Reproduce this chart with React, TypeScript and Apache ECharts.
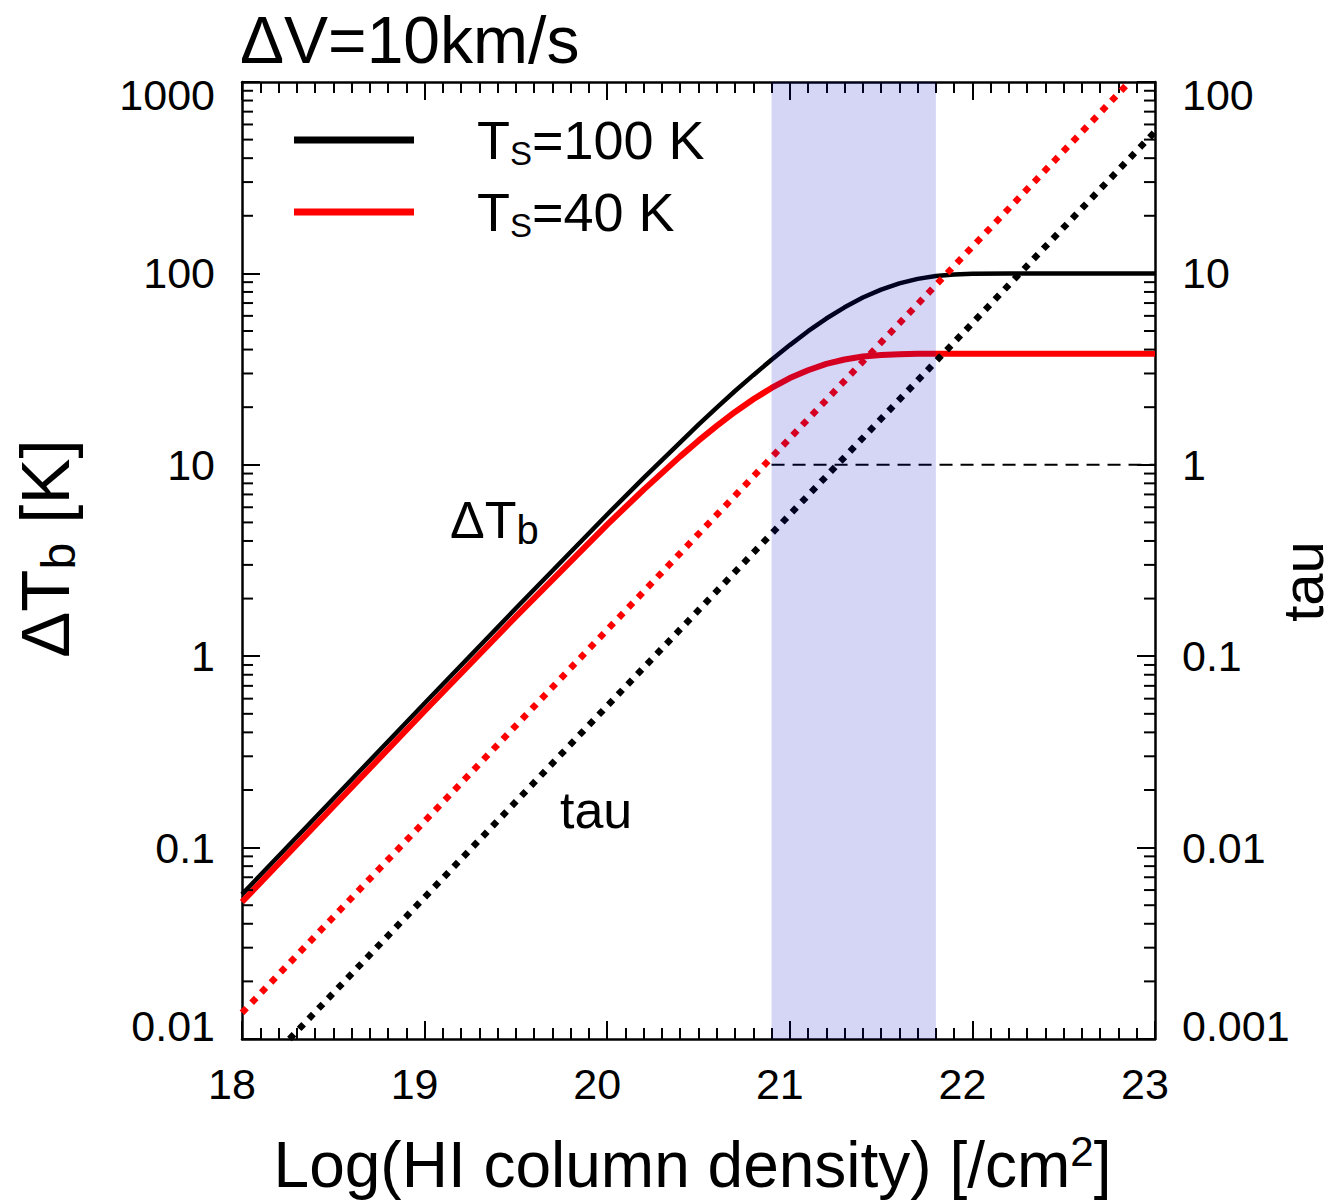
import React, { useEffect, useRef } from "react";
import * as echarts from "echarts";

// ---- data ----
const xTickLabels = ["18", "19", "20", "21", "22", "23"];
const leftTickLabels = ["0.01", "0.1", "1", "10", "100", "1000"];
const rightTickLabels = ["0.001", "0.01", "0.1", "1", "10", "100"];

// log10 of HI column density sampled along the curves
const logN = [18.0, 18.5, 19.0, 19.5, 20.0, 20.2, 20.4, 20.5, 20.6, 20.7, 20.8, 20.9, 21.0, 21.1, 21.2, 21.3, 21.4, 21.5, 21.6, 21.7, 21.8, 21.9, 22.0, 22.2, 22.5, 23.0];
// Delta T_b [K] for Ts = 100 K (black)
const dTb100 = [0.057, 0.18, 0.568, 1.78, 5.5, 8.55, 13.1, 16.2, 19.9, 24.3, 29.4, 35.4, 42.2, 49.9, 58.1, 66.5, 74.8, 82.3, 88.7, 93.6, 96.9, 98.7, 99.6, 100, 100, 100];
// Delta T_b [K] for Ts = 40 K (red)
const dTb40 = [0.052, 0.164, 0.517, 1.61, 4.87, 7.42, 11.07, 13.37, 15.98, 18.89, 22.0, 25.2, 28.4, 31.2, 33.7, 35.5, 36.8, 37.5, 37.8, 38.0, 38.0, 38.0, 38.0, 38.0, 38.0, 38.0];

// tau (dotted, right axis): straight lines on log-log
const tau40LogN = [18.0, 22.86];
const tau40 = [0.00137, 100];
const tau100LogN = [18.26, 23.0];
const tau100 = [0.001, 55];
// tau = 1 dashed guide
const tauOneLogN = [20.9, 23.0];
const tauOne = [1, 1];
// shaded band (log N range)
const bandLogN = [20.9, 21.8];

const legendNames = ["Ts=100 K", "Ts=40 K"];
const legendTemps = ["100", "40"];

// log minor tick layout
const minorMultipliers = [2, 3, 4, 5, 6, 7, 8, 9];
const leftDecades = [0.01, 0.1, 1, 10, 100];

const X_MIN = 18;
const X_MAX = 23;
const YL_MIN = 0.01;
const YL_MAX = 1000;
const YR_MIN = 0.001;
const YR_MAX = 100;

const FONT = "Liberation Sans, Arial, Helvetica, sans-serif";
const BLACK = "#000000";
const RED = "#ff0000";
const MAJOR_LEN = 18;
const MINOR_LEN = 11;

const zip = (a: number[], b: number[]) => a.map((v, i) => [v, b[i]]);

const minorTickValues: number[] = [];
leftDecades.forEach((d) => minorMultipliers.forEach((m) => minorTickValues.push(+(d * m).toPrecision(3))));

function buildOption(): any {
  const axisLine = { show: true, onZero: false, lineStyle: { color: BLACK, width: 2.5 } };
  const axisTick = { show: true, inside: true, length: MAJOR_LEN, lineStyle: { color: BLACK, width: 2 } };
  const minorTick = { show: true, splitNumber: 10, length: MINOR_LEN, lineStyle: { color: BLACK, width: 2 } };
  const tickLabel = { fontSize: 43, color: BLACK, fontFamily: FONT };

  return {
    animation: false,
    backgroundColor: "#ffffff",
    textStyle: { fontFamily: FONT },
    grid: { left: 242, top: 82, width: 913, height: 957, containLabel: false, outerBoundsMode: "none" },
    legend: {
      data: legendNames,
      orient: "vertical",
      left: 289,
      top: 108,
      icon: "rect",
      itemWidth: 120,
      itemHeight: 7,
      itemGap: 15,
      selectedMode: false,
      formatter: (name: string) => {
        const i = legendNames.indexOf(name);
        return `{m|T}{s|S}{m|=${legendTemps[i]} K}`;
      },
      textStyle: {
        padding: [0, 0, 0, 58],
        rich: {
          m: { fontSize: 54, lineHeight: 60, color: BLACK, fontFamily: FONT, verticalAlign: "middle" },
          s: { fontSize: 33, lineHeight: 25, color: BLACK, fontFamily: FONT, verticalAlign: "bottom" },
        },
      },
    },
    xAxis: [
      {
        type: "value",
        position: "bottom",
        min: X_MIN,
        max: X_MAX,
        interval: 1,
        axisLine,
        axisTick,
        minorTick,
        splitLine: { show: false },
        axisLabel: {
          ...tickLabel,
          margin: 23,
          padding: [0, 20, 0, 0],
          formatter: (v: number) => xTickLabels[Math.round(v - X_MIN)] ?? "",
        },
        name: "{m|Log(HI column density) [/cm}{p|2}{m|]}",
        nameLocation: "middle",
        nameGap: 91,
        nameMoveOverlap: false,
        nameTextStyle: {
          padding: [0, 12, 0, 0],
          rich: {
            m: { fontSize: 64, lineHeight: 70, color: BLACK, fontFamily: FONT, verticalAlign: "middle" },
            p: { fontSize: 42, lineHeight: 55, color: BLACK, fontFamily: FONT, verticalAlign: "top" },
          },
        },
      },
      {
        type: "value",
        position: "top",
        min: X_MIN,
        max: X_MAX,
        interval: 1,
        axisLine,
        axisTick,
        minorTick,
        splitLine: { show: false },
        axisLabel: { show: false },
      },
    ],
    yAxis: [
      {
        type: "log",
        logBase: 10,
        position: "left",
        min: YL_MIN,
        max: YL_MAX,
        splitNumber: 5,
        axisLine,
        axisTick,
        splitLine: { show: false },
        axisLabel: {
          ...tickLabel,
          lineHeight: 26,
          margin: 27,
          verticalAlignMinLabel: "bottom",
          verticalAlignMaxLabel: "top",
          formatter: (v: number) => leftTickLabels[Math.round(Math.log10(v)) + 2] ?? "",
        },
        name: "{m|ΔT}{b|b}{m| [K]}",
        nameLocation: "middle",
        nameRotate: 90,
        nameGap: 160,
        nameMoveOverlap: false,
        nameTextStyle: {
          padding: [0, 0, 0, 24],
          rich: {
            m: { fontSize: 69, lineHeight: 74, color: BLACK, fontFamily: FONT, verticalAlign: "middle" },
            b: { fontSize: 48, lineHeight: 36, color: BLACK, fontFamily: FONT, verticalAlign: "bottom" },
          },
        },
      },
      {
        type: "log",
        logBase: 10,
        position: "right",
        min: YR_MIN,
        max: YR_MAX,
        splitNumber: 5,
        axisLine,
        axisTick,
        splitLine: { show: false },
        axisLabel: {
          ...tickLabel,
          lineHeight: 26,
          margin: 27,
          verticalAlignMinLabel: "bottom",
          verticalAlignMaxLabel: "top",
          formatter: (v: number) => rightTickLabels[Math.round(Math.log10(v)) + 3] ?? "",
        },
        name: "tau",
        nameLocation: "middle",
        nameRotate: 90,
        nameGap: 122,
        nameMoveOverlap: false,
        nameTextStyle: { fontSize: 58, lineHeight: 50, color: BLACK, fontFamily: FONT, padding: [0, 42, 0, 0] },
      },
    ],
    graphic: [
      {
        type: "text",
        x: 240,
        y: 40,
        style: { text: "ΔV=10km/s", fontSize: 66, fontFamily: FONT, fill: BLACK, align: "left", verticalAlign: "middle" },
      },
      {
        type: "text",
        x: 450,
        y: 520,
        style: {
          text: "{m|ΔT}{s|b}",
          align: "left",
          verticalAlign: "middle",
          rich: {
            m: { fontSize: 52, lineHeight: 60, fill: BLACK, fontFamily: FONT, verticalAlign: "middle" },
            s: { fontSize: 40, lineHeight: 32, fill: BLACK, fontFamily: FONT, verticalAlign: "bottom" },
          },
        },
      },
      {
        type: "text",
        x: 560,
        y: 810,
        style: { text: "tau", fontSize: 52, fontFamily: FONT, fill: BLACK, align: "left", verticalAlign: "middle" },
      },
    ],
    series: [
      {
        name: legendNames[0],
        type: "line",
        xAxisIndex: 0,
        yAxisIndex: 0,
        data: zip(logN, dTb100),
        symbol: "none",
        showSymbol: false,
        itemStyle: { color: BLACK },
        lineStyle: { color: BLACK, width: 4.5 },
        z: 2,
      },
      {
        name: legendNames[1],
        type: "line",
        xAxisIndex: 0,
        yAxisIndex: 0,
        data: zip(logN, dTb40),
        symbol: "none",
        showSymbol: false,
        itemStyle: { color: RED },
        lineStyle: { color: RED, width: 6 },
        z: 2,
      },
      {
        name: "tau Ts=40 K",
        type: "line",
        xAxisIndex: 0,
        yAxisIndex: 1,
        data: zip(tau40LogN, tau40),
        symbol: "none",
        showSymbol: false,
        itemStyle: { color: RED },
        lineStyle: { color: RED, width: 6.5, type: [6.5, 7.5], cap: "butt" },
        z: 3,
      },
      {
        name: "tau Ts=100 K",
        type: "line",
        xAxisIndex: 0,
        yAxisIndex: 1,
        data: zip(tau100LogN, tau100),
        symbol: "none",
        showSymbol: false,
        itemStyle: { color: BLACK },
        lineStyle: { color: BLACK, width: 6.5, type: [6.5, 7.5], cap: "butt" },
        z: 3,
      },
      {
        name: "tau = 1",
        type: "line",
        xAxisIndex: 0,
        yAxisIndex: 1,
        data: zip(tauOneLogN, tauOne),
        symbol: "none",
        showSymbol: false,
        itemStyle: { color: BLACK },
        lineStyle: { color: BLACK, width: 2, type: [13, 8], cap: "butt" },
        z: 3,
      },
      {
        name: "band",
        type: "custom",
        xAxisIndex: 0,
        yAxisIndex: 0,
        silent: true,
        z: 5,
        data: [[bandLogN[0], bandLogN[1]]],
        renderItem: (_p: any, api: any) => {
          const p0 = api.coord([api.value(0), YL_MAX]);
          const p1 = api.coord([api.value(1), YL_MIN]);
          return {
            type: "rect",
            shape: { x: p0[0], y: p0[1], width: p1[0] - p0[0], height: p1[1] - p0[1] },
            style: { fill: "rgba(0,0,200,0.165)" },
          };
        },
      },
      {
        name: "minor ticks",
        type: "custom",
        xAxisIndex: 0,
        yAxisIndex: 0,
        silent: true,
        clip: false,
        z: 10,
        data: minorTickValues.map((v) => [X_MIN, v]),
        renderItem: (_p: any, api: any) => {
          const v = api.value(1);
          const pl = api.coord([X_MIN, v]);
          const pr = api.coord([X_MAX, v]);
          const st = { stroke: BLACK, lineWidth: 2 };
          return {
            type: "group",
            children: [
              { type: "line", shape: { x1: pl[0], y1: pl[1], x2: pl[0] + MINOR_LEN, y2: pl[1] }, style: st },
              { type: "line", shape: { x1: pr[0], y1: pr[1], x2: pr[0] - MINOR_LEN, y2: pr[1] }, style: st },
            ],
          };
        },
      },
    ],
  };
}

export default function App() {
  const ref = useRef<HTMLDivElement>(null);
  useEffect(() => {
    if (!ref.current) return;
    const chart = echarts.init(ref.current, null, { renderer: "svg" });
    chart.setOption(buildOption());
    return () => chart.dispose();
  }, []);
  return (
    <div
      ref={ref}
      style={{ position: "absolute", left: 0, top: 0, width: 1338, height: 1203, background: "#ffffff" }}
    />
  );
}
